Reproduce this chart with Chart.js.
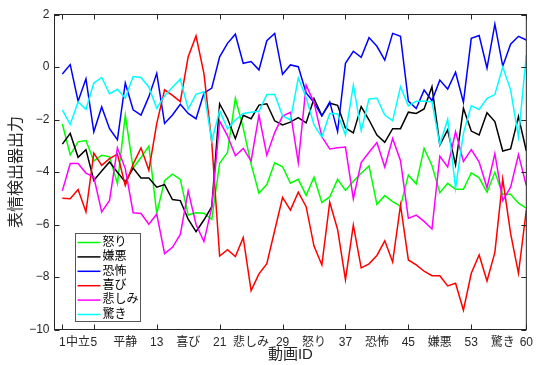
<!DOCTYPE html>
<html>
<head>
<meta charset="utf-8">
<script src="https://cdn.jsdelivr.net/npm/chart.js@4.4.1/dist/chart.umd.min.js"></script>
<style>
  html, body { margin: 0; padding: 0; background: #fff; }
  canvas { display: block; }
</style>
</head>
<body>
<canvas id="chart" width="539" height="365"></canvas>
<script>
const videoIds = [1, 2, 3, 4, 5, 6, 7, 8, 9, 10, 11, 12, 13, 14, 15, 16, 17, 18, 19, 20,
    21, 22, 23, 24, 25, 26, 27, 28, 29, 30, 31, 32, 33, 34, 35, 36, 37, 38, 39, 40,
    41, 42, 43, 44, 45, 46, 47, 48, 49, 50, 51, 52, 53, 54, 55, 56, 57, 58, 59, 60];

// x軸: 数字の目盛と、その間のカテゴリ名
const xTickValues = [1, 3, 5, 9, 13, 17, 21, 25, 29, 33, 37, 41, 45, 49, 53, 57, 60];
const xTickLabels = ['1', '中立', '5', '平静', '13', '喜び', '21', '悲しみ', '29', '怒り', '37', '恐怖', '45', '嫌悪', '53', '驚き', '60'];
const xTickMarks = [1, 5, 13, 21, 29, 37, 45, 53, 60];
const yTickValues = [-10, -8, -6, -4, -2, 0, 2];

const seriesNames = ['怒り', '嫌悪', '恐怖', '喜び', '悲しみ', '驚き'];
const seriesColors = ['#00ff00', '#000000', '#0000ff', '#ff0000', '#ff00ff', '#00ffff'];

const anger = [-2.17, -3.35, -2.85, -2.8, -3.58, -3.36, -3.42, -4.44, -1.84, -3.85,
    -3.45, -3.01, -5.58, -4.33, -4.08, -4.28, -5.64, -5.55, -5.57, -5.8,
    -3.67, -3.25, -1.19, -2.32, -3.7, -4.81, -4.48, -3.65, -3.8, -4.43,
    -4.28, -4.89, -4.2, -5.16, -4.95, -4.28, -4.7, -4.35, -4.05, -3.77,
    -5.23, -4.9, -5.13, -5.3, -4.12, -4.45, -3.1, -3.75, -4.79, -4.43,
    -4.66, -4.66, -4.03, -4.22, -4.77, -4.01, -4.85, -4.85, -5.19, -5.38];
const disgust = [-2.94, -2.53, -3.44, -3.15, -4.32, -3.96, -3.62, -4.01, -4.38, -3.85,
    -4.23, -4.23, -4.58, -4.48, -5.05, -5.09, -5.8, -6.27, -5.83, -5.32,
    -1.4, -1.96, -2.73, -1.84, -1.97, -1.45, -1.4, -2.05, -2.21, -2.1,
    -1.93, -2.13, -1.2, -1.85, -1.38, -1.46, -2.32, -2.51, -1.51, -2.02,
    -2.59, -2.87, -2.35, -2.35, -1.72, -1.77, -1.6, -0.75, -2.97, -2.4,
    -3.73, -1.57, -2.44, -2.59, -1.74, -2.08, -3.2, -3.12, -1.89, -3.2];
const fear = [-0.27, 0.09, -1.3, -0.45, -2.47, -1.52, -2.35, -2.77, -0.61, -1.63,
    -1.83, -1.13, -0.24, -2.15, -1.83, -1.42, -1.77, -1.97, -1.0, -0.8,
    0.39, 0.9, 1.25, 0.14, 0.21, -0.11, 1.0, 1.28, -0.28, 0.08,
    0.01, -0.99, -1.35, -1.87, -1.33, -2.46, 0.14, 0.6, 0.37, 1.12,
    0.79, 0.26, 1.28, 1.17, -1.3, -1.58, -0.88, -1.28, -0.5, -0.84,
    -0.2, -1.34, 1.09, 1.2, -0.04, 1.63, 0.03, 0.87, 1.17, 1.03];
const joy = [-5.0, -5.02, -4.67, -5.52, -3.28, -3.75, -3.49, -3.32, -4.51, -3.7,
    -3.08, -3.93, -2.16, -0.87, -1.08, -1.32, 0.39, 1.18, -0.24, -2.88,
    -7.2, -6.96, -7.22, -6.5, -8.52, -7.88, -7.49, -6.23, -4.97, -5.45,
    -4.77, -5.32, -6.82, -7.54, -5.15, -6.19, -8.1, -6.02, -7.65, -7.5,
    -7.18, -6.62, -7.43, -5.26, -7.35, -7.54, -7.78, -7.95, -7.95, -8.34,
    -8.24, -9.26, -7.86, -7.16, -8.15, -7.06, -4.27, -6.34, -7.86, -5.45];
const sadness = [-4.72, -3.68, -3.68, -4.04, -4.19, -5.52, -5.08, -3.08, -3.87, -5.55,
    -5.58, -5.99, -5.6, -7.11, -6.87, -6.38, -4.72, -6.0, -6.65, -5.35,
    -2.06, -2.62, -3.38, -3.1, -3.58, -1.83, -3.36, -2.5, -1.87, -1.73,
    -3.64, -0.69, -1.35, -2.66, -3.12, -3.08, -3.05, -5.02, -3.64, -3.25,
    -2.88, -3.81, -2.72, -3.57, -5.77, -5.64, -5.88, -6.17, -3.4, -3.81,
    -2.46, -3.6, -3.15, -3.62, -4.6, -3.3, -5.09, -4.58, -3.34, -4.52];
const surprise = [-1.63, -2.19, -1.33, -1.61, -0.61, -0.4, -1.02, -0.85, -1.18, -0.36,
    -0.4, -0.77, -1.57, -1.1, -0.77, -0.46, -1.6, -1.04, -0.94, -2.82,
    -1.66, -2.36, -2.02, -1.77, -1.72, -1.69, -1.05, -1.05, -1.86, -2.02,
    -0.42, -1.16, -2.21, -2.67, -1.77, -1.78, -2.59, -0.69, -2.42, -1.22,
    -1.19, -1.83, -2.05, -0.75, -1.48, -1.3, -1.3, -1.32, -2.96, -1.99,
    -4.62, -2.53, -1.48, -1.62, -1.19, -1.05, 0.0, -0.87, -2.67, 0.46];

const seriesValues = [anger, disgust, fear, joy, sadness, surprise];

const FONT = "'Liberation Sans', 'Noto Sans CJK JP', sans-serif";
const AXIS_COLOR = '#262626';

// 枠線・内向きの目盛・凡例を描く
const frameAndLegend = {
    id: 'frameAndLegend',
    afterDatasetsDraw(chart) {
        const { ctx, chartArea: a, scales: { x, y } } = chart;
        ctx.save();
        ctx.strokeStyle = AXIS_COLOR;
        ctx.lineWidth = 1;
        ctx.strokeRect(a.left, a.top, a.right - a.left, a.bottom - a.top);

        ctx.beginPath();
        xTickMarks.forEach(v => {
            const px = Math.round(x.getPixelForValue(v)) + 0.5;
            ctx.moveTo(px, a.bottom); ctx.lineTo(px, a.bottom - 5);
            ctx.moveTo(px, a.top); ctx.lineTo(px, a.top + 5);
        });
        yTickValues.forEach(v => {
            const py = Math.round(y.getPixelForValue(v)) + 0.5;
            ctx.moveTo(a.left, py); ctx.lineTo(a.left + 5, py);
            ctx.moveTo(a.right, py); ctx.lineTo(a.right - 5, py);
        });
        ctx.stroke();

        // 凡例
        const box = { left: 75.5, top: 233.5, width: 65, height: 88 };
        ctx.fillStyle = '#fff';
        ctx.fillRect(box.left, box.top, box.width, box.height);
        ctx.strokeStyle = '#555';
        ctx.strokeRect(box.left, box.top, box.width, box.height);
        ctx.font = '12px ' + FONT;
        ctx.textBaseline = 'middle';
        chart.data.datasets.forEach((ds, i) => {
            const rowY = box.top + 9 + i * 14.4;
            ctx.strokeStyle = ds.borderColor;
            ctx.lineWidth = 1.5;
            ctx.beginPath();
            ctx.moveTo(box.left + 2, rowY);
            ctx.lineTo(box.left + 25, rowY);
            ctx.stroke();
            ctx.fillStyle = '#000';
            ctx.fillText(ds.label, box.left + 27, rowY);
        });
        ctx.restore();
    }
};

new Chart(document.getElementById('chart'), {
    type: 'line',
    data: {
        datasets: seriesNames.map((name, i) => ({
            label: name,
            data: seriesValues[i].map((v, k) => ({ x: videoIds[k], y: v })),
            borderColor: seriesColors[i],
            borderWidth: 1.5,
            pointRadius: 0,
            tension: 0,
            fill: false,
            order: seriesNames.length - i
        }))
    },
    options: {
        responsive: false,
        animation: false,
        devicePixelRatio: 1,
        layout: { padding: { top: 14.5, right: 6.5, left: 0, bottom: 0 } },
        plugins: { legend: { display: false }, tooltip: { enabled: false } },
        scales: {
            x: {
                type: 'linear',
                min: 0,
                max: 60,
                afterBuildTicks: s => { s.ticks = xTickValues.map(v => ({ value: v })); },
                afterFit: s => { s.height = 35.5; },
                grid: { display: false, drawTicks: false },
                border: { display: false },
                ticks: {
                    autoSkip: false,
                    maxRotation: 0,
                    padding: 6,
                    color: AXIS_COLOR,
                    font: { family: FONT, size: 12 },
                    callback: v => xTickLabels[xTickValues.indexOf(v)] ?? ''
                },
                title: {
                    display: true,
                    text: '動画ID',
                    color: AXIS_COLOR,
                    font: { family: FONT, size: 15 },
                    padding: { top: 0, bottom: 1 }
                }
            },
            y: {
                type: 'linear',
                min: -10,
                max: 2,
                afterBuildTicks: s => { s.ticks = yTickValues.map(v => ({ value: v })); },
                afterFit: s => { s.width = 54.5; },
                grid: { display: false, drawTicks: false },
                border: { display: false },
                ticks: {
                    padding: 5,
                    color: AXIS_COLOR,
                    font: { family: FONT, size: 12 },
                    callback: v => String(v).replace('-', '\u2212')
                },
                title: {
                    display: true,
                    text: '表情検出器出力',
                    color: AXIS_COLOR,
                    font: { family: FONT, size: 16 },
                    padding: { top: 7, bottom: 0 }
                }
            }
        }
    },
    plugins: [frameAndLegend]
});
</script>
</body>
</html>
